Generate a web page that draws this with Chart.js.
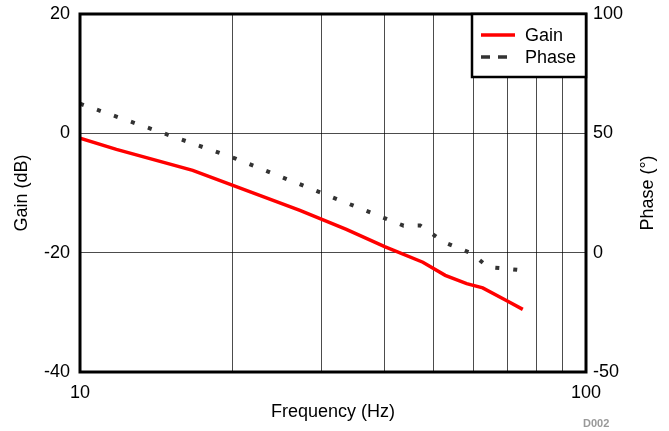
<!DOCTYPE html>
<html>
<head>
<meta charset="utf-8">
<script src="https://cdn.jsdelivr.net/npm/chart.js@4/dist/chart.umd.min.js"></script>
<style>
  html, body { margin: 0; padding: 0; background: #fff; }
  #wrap { width: 669px; height: 431px; position: relative; }
</style>
</head>
<body>
<div id="wrap"><canvas id="c"></canvas></div>
<script>
// frequency (Hz) and gain (dB)
const gainFreq = [10, 11.8, 16.7, 27.2, 33.6, 40.0, 47.6, 52.7, 58.1, 62.5, 69.9, 75.0];
const gainDb   = [-0.8, -2.7, -6.2, -12.9, -16.1, -19.0, -21.6, -23.8, -25.2, -25.9, -28.1, -29.5];

// frequency (Hz) and phase (deg)
const phaseFreq = [10, 20.3, 43.6, 47.0, 52.3, 59.5, 64.0, 69.7, 74.5];
const phaseDeg  = [62.4, 39.4, 11.3, 11.4, 4.5, -0.4, -6.0, -6.7, -7.4];

const xTicks = [10, 20, 30, 40, 50, 60, 70, 80, 90, 100];
const xLabels = [10, 100];
const gainTicks = [-40, -20, 0, 20];
const phaseTicks = [-50, 0, 50, 100];

const FONT_FAMILY = '"Liberation Sans", Arial, sans-serif';
const font = { family: FONT_FAMILY, size: 18 };

const frame = {
  id: 'frame',
  afterDraw(chart) {
    const { ctx, chartArea: a } = chart;
    ctx.save();
    ctx.strokeStyle = '#000';
    ctx.lineWidth = 3;
    ctx.strokeRect(a.left, a.top, a.right - a.left, a.bottom - a.top);

    // legend box
    const lx = 472, ly = a.top, lw = a.right - 472, lh = 63;
    ctx.fillStyle = '#fff';
    ctx.fillRect(lx, ly, lw, lh);
    ctx.lineWidth = 2.5;
    ctx.strokeRect(lx, ly, lw, lh);
    ctx.font = '18px ' + FONT_FAMILY;
    ctx.textBaseline = 'middle';
    ctx.fillStyle = '#000';
    chart.data.datasets.forEach((ds, i) => {
      const y = ly + 21 + i * 22;
      ctx.beginPath();
      ctx.strokeStyle = ds.borderColor;
      ctx.lineWidth = 3.5;
      ctx.setLineDash(i === 0 ? [] : [9, 8]);
      ctx.moveTo(481, y);
      ctx.lineTo(515, y);
      ctx.stroke();
      ctx.setLineDash([]);
      ctx.fillText(ds.label, 525, y + 1);
    });

    // right axis title reads bottom-to-top
    ctx.save();
    ctx.translate(648, (a.top + a.bottom) / 2);
    ctx.rotate(-Math.PI / 2);
    ctx.textAlign = 'center';
    ctx.fillText('Phase (°)', 0, 0);
    ctx.restore();

    ctx.font = 'bold 11px ' + FONT_FAMILY;
    ctx.fillStyle = '#999';
    ctx.textAlign = 'left';
    ctx.fillText('D002', 583, 424);
    ctx.restore();
  }
};

const noPad = s => { s.paddingTop = 0; s.paddingBottom = 0; };

new Chart(document.getElementById('c'), {
  type: 'line',
  data: {
    datasets: [
      {
        label: 'Gain',
        data: gainFreq.map((f, i) => ({ x: f, y: gainDb[i] })),
        borderColor: '#ff0000',
        borderWidth: 3.5,
        pointRadius: 0,
        tension: 0,
        yAxisID: 'y'
      },
      {
        label: 'Phase',
        data: phaseFreq.map((f, i) => ({ x: f, y: phaseDeg[i] })),
        borderColor: '#333333',
        borderWidth: 4,
        borderDash: [4, 14],
        borderCapStyle: 'butt',
        pointRadius: 0,
        tension: 0,
        yAxisID: 'y2'
      }
    ]
  },
  options: {
    responsive: true,
    maintainAspectRatio: false,
    animation: false,
    layout: { padding: { top: 14 } },
    plugins: { legend: { display: false }, tooltip: { enabled: false } },
    scales: {
      x: {
        type: 'logarithmic',
        min: 10,
        max: 100,
        afterBuildTicks: s => { s.ticks = xTicks.map(v => ({ value: v })); },
        afterFit: s => { s.height = 59; },
        ticks: {
          color: '#000',
          font,
          padding: 10,
          maxRotation: 0,
          autoSkip: false,
          callback: v => xLabels.includes(v) ? String(v) : ''
        },
        grid: { color: 'rgba(0,0,0,0.7)', lineWidth: 1, drawTicks: false },
        border: { display: false },
        title: { display: true, text: 'Frequency (Hz)', color: '#000', font, padding: { top: 0, bottom: 8 } }
      },
      y: {
        position: 'left',
        min: -40,
        max: 20,
        afterBuildTicks: s => { s.ticks = gainTicks.map(v => ({ value: v })); },
        afterFit: s => { s.width = 80; noPad(s); },
        ticks: { color: '#000', font, padding: 10 },
        grid: { color: 'rgba(0,0,0,0.7)', lineWidth: 1, drawTicks: false },
        border: { display: false },
        title: { display: true, text: 'Gain (dB)', color: '#000', font, padding: { top: 11, bottom: 0 } }
      },
      y2: {
        position: 'right',
        min: -50,
        max: 100,
        afterBuildTicks: s => { s.ticks = phaseTicks.map(v => ({ value: v })); },
        afterFit: s => { s.width = 83; noPad(s); },
        ticks: { color: '#000', font, padding: 7 },
        grid: { display: false, drawTicks: false },
        border: { display: false }
      }
    }
  },
  plugins: [frame]
});
</script>
</body>
</html>
